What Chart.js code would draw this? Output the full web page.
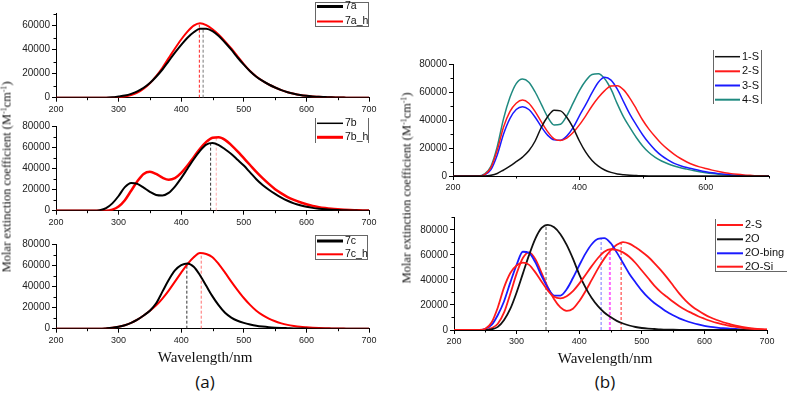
<!DOCTYPE html>
<html>
<head>
<meta charset="utf-8">
<script src="https://cdn.jsdelivr.net/npm/chart.js@4.4.1/dist/chart.umd.min.js"></script>
<style>
  html, body { margin: 0; padding: 0; background: #fff; }
  #page { position: relative; width: 787px; height: 404px; overflow: hidden; }
  canvas { position: absolute; }
  .lbl { position: absolute; white-space: nowrap; color: #111; transform: translate(-50%, -50%); }
  .ytitle { font: 12.5px "Liberation Serif", "Times New Roman", serif; transform: translate(-50%, -50%) rotate(-90deg); }
  .ytitle sup { font-size: 0.62em; vertical-align: 0.55em; line-height: 0; }
  .xtitle { font: 15px "Liberation Serif", "Times New Roman", serif; }
  .panel { font: 17px "Open Sans", sans-serif; }
</style>
</head>
<body>
<div id="page">
  <canvas id="a1"></canvas>
  <canvas id="a2"></canvas>
  <canvas id="a3"></canvas>
  <canvas id="b1"></canvas>
  <canvas id="b2"></canvas>
  <div class="lbl ytitle" style="left:7px;top:177px">Molar extinction coefficient (M<sup>-1</sup>cm<sup>-1</sup>)</div>
  <div class="lbl ytitle" style="left:407px;top:188px">Molar extinction coefficient (M<sup>-1</sup>cm<sup>-1</sup>)</div>
  <div class="lbl xtitle" style="left:205px;top:357px">Wavelength/nm</div>
  <div class="lbl xtitle" style="left:605px;top:358px">Wavelength/nm</div>
  <div class="lbl panel" style="left:205px;top:381px">(a)</div>
  <div class="lbl panel" style="left:605px;top:381px">(b)</div>
</div>
<script>
// wavelength grid (nm) shared by every spectrum
const wavelengths = [
  200, 210, 220, 230, 240, 250, 260, 270, 280, 290,
  300, 310, 320, 330, 340, 350, 360, 370, 380, 390,
  400, 410, 420, 430, 440, 450, 460, 470, 480, 490,
  500, 510, 520, 530, 540, 550, 560, 570, 580, 590,
  600, 610, 620, 630, 640, 650, 660, 670, 680, 690,
  700
];

// extinction coefficients, in units of 1000 M^-1 cm^-1
const ext7a = [
  0, 0, 0, 0, 0, 0, 0, 0, 0, 0.3,
  1.0, 1.8, 3.2, 5.3, 8.3, 12.3, 17.5, 23.5, 30.5, 37.5,
  44, 50, 54.5, 57.5, 57.5, 55.5, 51.5, 46, 40, 33.5,
  27.5, 22, 17.5, 14, 11, 8.5, 6.3, 4.6, 3.3, 2.3,
  1.6, 1.1, 0.7, 0.5, 0.3, 0.2, 0.1, 0, 0, 0,
  0
];
const ext7aH = [
  0, 0, 0, 0, 0, 0, 0, 0, 0, 0,
  0.4, 1.0, 2.2, 4.2, 7.5, 12, 18, 25, 33, 41,
  48.5, 55, 60, 62, 60.5, 57, 52.5, 47, 41, 34.5,
  28, 22.3, 17.7, 14, 11, 8.5, 6.3, 4.6, 3.3, 2.3,
  1.6, 1.1, 0.7, 0.5, 0.3, 0.2, 0.1, 0, 0, 0,
  0
];
const ext7b = [
  0, 0, 0, 0, 0, 0, 0, 0.5, 2.5, 7,
  14, 22.5, 26.5, 25.5, 22, 18, 15, 14.5, 17, 23,
  31, 40, 49, 57, 63, 64.5, 62.5, 58.5, 54, 48.5,
  43, 36.5, 30, 24.5, 20, 16, 12.5, 9.5, 7, 5.2,
  3.8, 2.7, 1.9, 1.3, 0.9, 0.6, 0.4, 0.2, 0.1, 0,
  0
];
const ext7bH = [
  0, 0, 0, 0, 0, 0, 0, 0, 0, 1,
  4, 10, 19, 28, 35, 37, 35, 31.5, 29.5, 31,
  36, 43, 51, 59, 65.5, 69.5, 70, 67.5, 62.5, 56.5,
  50, 43.5, 37, 31, 25.5, 20.5, 16.5, 13, 10.3, 8,
  6.2, 4.6, 3.4, 2.5, 1.8, 1.3, 0.9, 0.6, 0.4, 0.2,
  0.1
];
const ext7c = [
  0, 0, 0, 0, 0, 0, 0, 0, 0.3, 0.8,
  1.8, 3.3, 5.5, 8.5, 12.5, 17, 24, 35, 46, 55,
  60, 61.7, 58.5, 50.5, 40.5, 30.5, 22, 15, 10.5, 7.5,
  5.5, 4, 2.8, 2, 1.4, 1, 0.7, 0.5, 0.3, 0.2,
  0.1, 0, 0, 0, 0, 0, 0, 0, 0, 0,
  0
];
const ext7cH = [
  0, 0, 0, 0, 0, 0, 0, 0, 0.2, 0.8,
  1.8, 3.3, 5.5, 8.5, 12.5, 17, 22, 28.5, 36, 44.5,
  53, 61, 67.5, 71.5, 70.5, 67.5, 61, 53, 44.5, 36.5,
  29, 22.5, 17, 12.8, 9.5, 7, 5, 3.6, 2.6, 1.8,
  1.3, 0.9, 0.6, 0.4, 0.3, 0.2, 0.1, 0, 0, 0,
  0
];
const ext1S = [
  0, 0, 0, 0, 0, 0, 0.5, 1.8, 4.3, 7,
  10.2, 13.5, 18, 25, 35, 42.5, 47, 46.5, 42, 34.5,
  25, 17, 11, 7, 4.3, 2.6, 1.5, 0.9, 0.5, 0.3,
  0.1, 0, 0, 0, 0, 0, 0, 0, 0, 0,
  0, 0, 0, 0, 0, 0, 0, 0, 0, 0,
  0
];
const ext2S = [
  0, 0, 0, 0, 0, 1, 6, 18.5, 35, 46,
  52, 54.3, 52, 46, 38.5, 31.5, 26.5, 25.3, 27, 31,
  36.5, 43, 50, 56, 61, 64.3, 64.5, 61.5, 55.5, 48,
  40, 33.5, 28, 23, 19, 15.5, 12.5, 10, 8, 6.5,
  5.3, 4.2, 3.2, 2.4, 1.7, 1.2, 0.8, 0.5, 0.2, 0.1,
  0
];
const ext3S = [
  0, 0, 0, 0, 0, 0.8, 4.5, 15, 30, 41,
  47.5, 49.5, 47.5, 42, 35, 29, 25.8, 25.5, 28.5, 34.5,
  43, 51, 59.5, 67, 70.5, 68.5, 62, 53, 44, 36.5,
  29.5, 23.5, 18.5, 14.5, 11.5, 9, 7.3, 6, 5, 4,
  3.1, 2.3, 1.7, 1.2, 0.8, 0.5, 0.3, 0.2, 0.1, 0,
  0
];
const ext4S = [
  0, 0, 0, 0, 0, 1.5, 7, 21, 41, 56,
  66, 69.3, 67, 60, 51, 42, 36.5, 37, 43, 52,
  61, 68, 72.5, 73, 69.5, 62, 51.5, 42, 34.5, 27.5,
  21.5, 16.8, 13.3, 10.7, 8.7, 7.1, 5.9, 4.9, 3.9, 3.1,
  2.4, 1.8, 1.3, 0.9, 0.6, 0.4, 0.2, 0.1, 0, 0,
  0
];
const ext2Sb = [
  0, 0, 0, 0, 0, 1, 6, 18, 34, 45.5,
  51.5, 53.8, 52, 46, 38.5, 31.5, 26.5, 25.3, 27, 31,
  37, 44, 51, 57.5, 62.5, 64.5, 64, 62, 58.5, 53.5,
  47.5, 41.5, 35.5, 30.5, 26.5, 22.5, 19, 16, 13.5, 11,
  9, 7.2, 5.6, 4.4, 3.3, 2.5, 1.8, 1.2, 0.8, 0.5,
  0.3
];
const ext2O = [
  0, 0, 0, 0, 0, 0, 0.5, 2.5, 8, 17,
  30, 45, 60, 73, 81.5, 84, 82, 76.5, 68, 57,
  44.5, 34, 25.5, 19, 14, 10.3, 7.3, 5.2, 3.6, 2.4,
  1.6, 1.1, 0.8, 0.5, 0.3, 0.2, 0.1, 0, 0, 0,
  0, 0, 0, 0, 0, 0, 0, 0, 0, 0,
  0
];
const ext2OBing = [
  0, 0, 0, 0, 0, 1, 4, 12, 23, 38,
  52, 62.5, 61.5, 54, 43, 33.5, 27.5, 27.5, 32.5, 41.5,
  51.5, 61, 68.5, 72.8, 73.3, 69.5, 62, 53.5, 45, 38,
  31.5, 26, 21.5, 18, 14.5, 11.8, 9.3, 7.4, 5.8, 4.4,
  3.3, 2.5, 1.9, 1.4, 1.1, 0.8, 0.5, 0.3, 0.2, 0.1,
  0
];
const ext2OSi = [
  0, 0, 0, 0, 0, 0, 1.5, 5, 14, 29,
  45, 57.5, 62, 56.5, 45.5, 34, 24.5, 18, 15.3, 17,
  23, 31, 40, 49, 57, 63.5, 68, 70.2, 69, 66,
  62.5, 58.5, 53.5, 48, 42, 35.5, 29, 23.5, 19, 15.5,
  12.5, 10, 8, 6.2, 4.8, 3.5, 2.5, 1.7, 1.1, 0.7,
  0.4
];

// dashed peak markers: wavelength and height
const marksA1X = [429, 435];
const marksA1Y = [62000, 58000];
const marksA2X = [447, 456];
const marksA2Y = [64500, 70000];
const marksA3X = [409, 432];
const marksA3Y = [61700, 71500];
const marksB2X = [347, 435, 449, 467];
const marksB2Y = [84000, 73300, 64500, 70200];

const RED = "#ff1a1a";
const BLUE = "#1a1aff";
const TEAL = "#1f8a80";
const BLACK = "#000";

Chart.defaults.font.family = "'Liberation Sans', Arial, sans-serif";
Chart.defaults.color = "#222";

function toPoints(vals) {
  return wavelengths.map((w, i) => ({ x: w, y: vals[i] * 1000 }));
}

function curve(label, vals, color, width, legendWidth) {
  return {
    label,
    data: toPoints(vals),
    borderColor: color,
    borderWidth: width,
    legendWidth: legendWidth || width,
    pointRadius: 0,
    cubicInterpolationMode: "monotone",
    fill: false
  };
}

function marks(xs, ys, colors, widths) {
  return xs.map((x, i) => ({
    mark: true,
    data: [{ x, y: 0 }, { x, y: ys[i] }],
    borderColor: colors[i],
    borderWidth: widths ? widths[i] : 1,
    borderDash: [3, 2],
    pointRadius: 0
  }));
}

const minorTicks = {
  id: "minorTicks",
  afterDraw(chart, args, o) {
    const { ctx, chartArea } = chart;
    const xs = chart.scales.x;
    const ys = chart.scales.y;
    ctx.save();
    ctx.strokeStyle = "#000";
    ctx.lineWidth = 1;
    ctx.beginPath();
    for (let v = o.xStart; v <= xs.max; v += o.xStep) {
      const px = Math.round(xs.getPixelForValue(v)) + 0.5;
      ctx.moveTo(px, chartArea.bottom);
      ctx.lineTo(px, chartArea.bottom + 2.5);
    }
    for (let v = o.yStart; v <= ys.max; v += o.yStep) {
      const py = Math.round(ys.getPixelForValue(v)) + 0.5;
      ctx.moveTo(chartArea.left, py);
      ctx.lineTo(chartArea.left - 2.5, py);
    }
    ctx.stroke();
    ctx.restore();
  }
};

const boxLegend = {
  id: "boxLegend",
  afterDraw(chart, args, o) {
    const ctx = chart.ctx;
    const [x0, y0, x1, y1] = o.box;
    ctx.save();
    ctx.strokeStyle = "#666";
    ctx.lineWidth = 1;
    ctx.beginPath();
    if (o.sides.includes("l")) { ctx.moveTo(x0 + 0.5, y0); ctx.lineTo(x0 + 0.5, y1); }
    if (o.sides.includes("r")) { ctx.moveTo(x1 - 0.5, y0); ctx.lineTo(x1 - 0.5, y1); }
    if (o.sides.includes("t")) { ctx.moveTo(x0, y0 + 0.5); ctx.lineTo(x1, y0 + 0.5); }
    if (o.sides.includes("b")) { ctx.moveTo(x0, y1 - 0.5); ctx.lineTo(x1, y1 - 0.5); }
    ctx.stroke();
    const items = chart.data.datasets.filter((d) => !d.mark);
    ctx.font = o.font;
    ctx.textBaseline = "middle";
    items.forEach((d, i) => {
      const y = o.rows[i];
      ctx.strokeStyle = d.borderColor;
      ctx.lineWidth = d.legendWidth;
      ctx.beginPath();
      ctx.moveTo(o.line[0], y);
      ctx.lineTo(o.line[1], y);
      ctx.stroke();
      ctx.fillStyle = "#111";
      ctx.fillText(d.label, o.text, y);
    });
    ctx.restore();
  }
};

// box = canvas rect on the page, area = plot rect on the page (left, top, right, bottom)
function makeChart(id, box, area, cfg) {
  const [bl, bt, bw, bh] = box;
  const [al, at, ar, ab] = area;
  const el = document.getElementById(id);
  el.width = bw;
  el.height = bh;
  el.style.left = bl + "px";
  el.style.top = bt + "px";
  el.style.width = bw + "px";
  el.style.height = bh + "px";

  const lg = cfg.legend;
  const legend = {
    box: [lg.box[0] - bl, lg.box[1] - bt, lg.box[2] - bl, lg.box[3] - bt],
    sides: lg.sides,
    rows: lg.rows.map((r) => r - bt),
    line: [lg.line[0] - bl, lg.line[1] - bl],
    text: lg.text - bl,
    font: lg.font
  };

  return new Chart(el, {
    type: "line",
    data: { datasets: cfg.datasets },
    options: {
      responsive: false,
      animation: false,
      devicePixelRatio: 1,
      layout: { padding: { left: 0, top: at - bt, right: bl + bw - ar, bottom: 0 } },
      plugins: {
        legend: { display: false },
        tooltip: { enabled: false },
        minorTicks: cfg.minor,
        boxLegend: legend
      },
      scales: {
        x: {
          type: "linear",
          min: 200,
          max: 700,
          afterFit: (s) => { s.height = bt + bh - ab; },
          border: { display: true, color: "#000", width: 1 },
          grid: { drawOnChartArea: false, drawTicks: true, tickLength: 4, color: "#000" },
          ticks: {
            stepSize: 100,
            autoSkip: false,
            maxRotation: 0,
            padding: 2,
            font: { size: 9 },
            callback: (v) => (v % cfg.xLabelEvery === 0 ? String(v) : null)
          }
        },
        y: {
          min: 0,
          max: cfg.yMax,
          afterFit: (s) => { s.width = al - bl; },
          border: { display: true, color: "#000", width: 1 },
          grid: { drawOnChartArea: false, drawTicks: true, tickLength: 4, color: "#000" },
          ticks: {
            stepSize: 10000,
            autoSkip: false,
            padding: 2,
            font: { size: 10 },
            callback: (v) => (v % 20000 === 0 ? String(v) : null)
          }
        }
      }
    },
    plugins: [minorTicks, boxLegend]
  });
}

const minorA = { xStart: 250, xStep: 100, yStart: 10000, yStep: 20000 };

makeChart("a1", [0, 0, 390, 120], [56, 13.7, 369, 97.7], {
  yMax: 70000,
  xLabelEvery: 100,
  minor: minorA,
  datasets: [
    curve("7a", ext7a, BLACK, 2, 3),
    curve("7a_h", ext7aH, "#ff0000", 2, 2),
    ...marks(marksA1X, marksA1Y, ["#ff2020", "#777"])
  ],
  legend: { box: [315, 2, 369, 27], sides: "ltrb", rows: [6.5, 21.5], line: [317, 343], text: 345, font: "10.5px 'Liberation Sans', Arial" }
});

makeChart("a2", [0, 112, 390, 120], [56, 126.7, 369, 210.7], {
  yMax: 80000,
  xLabelEvery: 100,
  minor: minorA,
  datasets: [
    curve("7b", ext7b, BLACK, 2, 1.5),
    curve("7b_h", ext7bH, "#ff0000", 2.5, 3),
    ...marks(marksA2X, marksA2Y, ["#333", "#ffaaaa"])
  ],
  legend: { box: [315, 118, 369, 143], sides: "lr", rows: [123.3, 137.3], line: [317, 343], text: 345, font: "10.5px 'Liberation Sans', Arial" }
});

makeChart("a3", [0, 230, 390, 120], [56, 244, 369, 328.7], {
  yMax: 80000,
  xLabelEvery: 100,
  minor: minorA,
  datasets: [
    curve("7c", ext7c, BLACK, 2, 3),
    curve("7c_h", ext7cH, "#ff0000", 2, 2),
    ...marks(marksA3X, marksA3Y, ["#333", "#ff7070"])
  ],
  legend: { box: [315, 235, 368, 260], sides: "ltrb", rows: [241, 254.3], line: [317, 343], text: 345, font: "10.5px 'Liberation Sans', Arial" }
});

makeChart("b1", [395, 40, 392, 160], [453, 64, 769, 176], {
  yMax: 80000,
  xLabelEvery: 200,
  minor: { xStart: 300, xStep: 200, yStart: 10000, yStep: 20000 },
  datasets: [
    curve("1-S", ext1S, "#111", 1.5, 1.5),
    curve("2-S", ext2S, RED, 1.5, 2),
    curve("3-S", ext3S, BLUE, 1.5, 2),
    curve("4-S", ext4S, TEAL, 1.5, 2)
  ],
  legend: { box: [713, 50, 762, 104], sides: "lr", rows: [56.7, 71.3, 85.5, 99.7], line: [715, 740], text: 742, font: "11px 'Liberation Sans', Arial" }
});

makeChart("b2", [395, 200, 392, 150], [454, 217.3, 767, 330], {
  yMax: 90000,
  xLabelEvery: 100,
  minor: { xStart: 250, xStep: 100, yStart: 10000, yStep: 20000 },
  datasets: [
    curve("2-S", ext2Sb, RED, 1.8, 2),
    curve("2O", ext2O, "#111", 1.8, 2),
    curve("2O-bing", ext2OBing, BLUE, 1.8, 2),
    curve("2O-Si", ext2OSi, RED, 1.8, 2),
    ...marks(marksB2X, marksB2Y, ["#555", "#7777ff", "#ff66ff", "#ff4a4a"], [1, 1, 2, 1.2])
  ],
  legend: { box: [715, 219, 787, 272], sides: "lb", rows: [225, 239.3, 253.3, 266.7], line: [717, 743], text: 745, font: "11px 'Liberation Sans', Arial" }
});
</script>
</body>
</html>
